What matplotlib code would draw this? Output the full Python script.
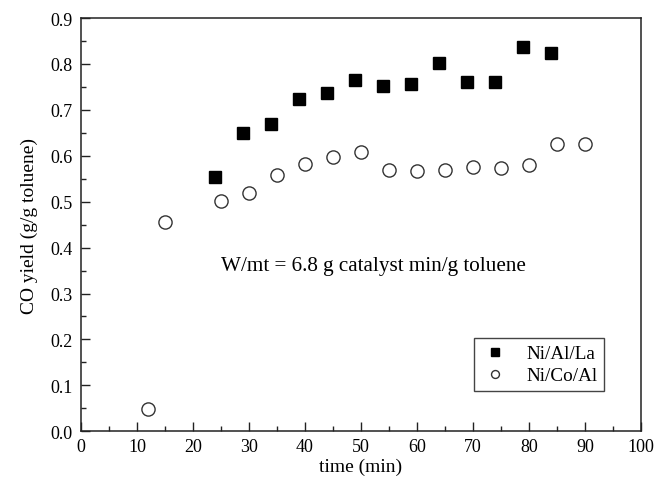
import numpy as np
import matplotlib
matplotlib.use('Agg')
import matplotlib.pyplot as plt
from matplotlib.ticker import MultipleLocator, FormatStrFormatter

########## data
t_la   = [24, 29, 34, 39, 44, 49, 54, 59, 64, 69, 74, 79, 84]
co_la  = [0.554, 0.649, 0.669, 0.723, 0.737, 0.766, 0.752, 0.757, 0.802, 0.760, 0.760, 0.836, 0.824]

t_co   = [12, 15, 25, 30, 35, 40, 45, 50, 55, 60, 65, 70, 75, 80, 85, 90]
co_co  = [0.049, 0.455, 0.501, 0.520, 0.558, 0.583, 0.597, 0.608, 0.569, 0.567, 0.569, 0.575, 0.574, 0.580, 0.626, 0.626]

plt.rcParams['font.family'] = ['Liberation Serif', 'DejaVu Serif']

fig = plt.figure(figsize=(6.58, 4.85), dpi=100)
ax = fig.add_axes([0.1231, 0.1087, 0.8511, 0.8521])

ax.plot(t_la, co_la, 's', color='black', markersize=8.6, linestyle='none', label='Ni/Al/La')
ax.plot(t_co, co_co, 'o', markerfacecolor='white', markeredgecolor='#333333', markeredgewidth=1.0,
        markersize=9.5, linestyle='none', label='Ni/Co/Al')

ax.set_xlim(0, 100)
ax.set_ylim(0, 0.9)
ax.xaxis.set_major_locator(MultipleLocator(10))
ax.xaxis.set_minor_locator(MultipleLocator(5))
ax.yaxis.set_major_locator(MultipleLocator(0.1))
ax.yaxis.set_minor_locator(MultipleLocator(0.05))
ax.yaxis.set_major_formatter(FormatStrFormatter('%.1f'))
ax.tick_params(which='both', direction='in', top=False, right=False, labelsize=13, color='#222222')
ax.tick_params(which='major', length=6.5, width=1)
ax.tick_params(which='minor', length=3.6, width=1)
ax.tick_params(axis='x', pad=5)
ax.tick_params(axis='y', pad=6)
for s in ax.spines.values():
    s.set_linewidth(1.1)
    s.set_color('#222222')

ax.set_xlabel('time (min)', fontsize=14, labelpad=2)
ax.set_ylabel('CO yield (g/g toluene)', fontsize=14, labelpad=9)

ax.text(52.3, 0.360, 'W/mt = 6.8 g catalyst min/g toluene', fontsize=15.2, ha='center', va='center')

leg = ax.legend(loc='lower right', bbox_to_anchor=(0.934, 0.097), borderaxespad=0,
                fontsize=13.8, markerscale=0.6,
                fancybox=False, edgecolor='#444444', framealpha=1, handletextpad=0.9,
                handlelength=1.5, borderpad=0.35, labelspacing=0.25)
leg.get_frame().set_linewidth(1.0)

plt.savefig('out.png', dpi=100)
